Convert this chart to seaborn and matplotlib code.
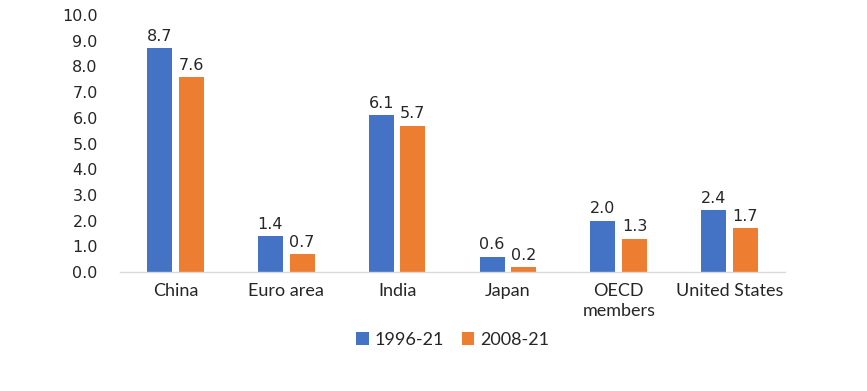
import matplotlib
matplotlib.use("Agg")
import matplotlib.pyplot as plt
import pandas as pd
import seaborn as sns

# values
regions = ["China", "Euro area", "India", "Japan", "OECD\nmembers", "United States"]
period_1996 = [8.7, 1.4, 6.1, 0.6, 2.0, 2.4]
period_2008 = [7.6, 0.7, 5.7, 0.2, 1.3, 1.7]
periods = ["1996-21", "2008-21"]
yticks = [0, 1, 2, 3, 4, 5, 6, 7, 8, 9, 10]

df = pd.DataFrame({
    "region": regions * 2,
    "value": period_1996 + period_2008,
    "period": [periods[0]] * len(regions) + [periods[1]] * len(regions),
})

sns.set_theme(style="white")
plt.rcParams['font.family'] = ['DejaVu Sans']

fig = plt.figure(figsize=(8.67, 3.91), dpi=100)
ax = fig.add_axes([120 / 867, 1 - 272 / 391, 665 / 867, 257 / 391])

sns.barplot(data=df, x="region", y="value", hue="period", order=regions,
            hue_order=periods, palette=["#4472C4", "#ED7D31"], saturation=1,
            width=0.57, gap=0.21, linewidth=0, ax=ax, legend=True)

for cont in ax.containers:
    ax.bar_label(cont, fmt="%.1f", padding=3, fontsize=11.5, color="#262626")

ax.set_xlim(-0.5, 5.5)
ax.set_ylim(0, 10)
ax.set_yticks(yticks)
ax.set_yticklabels([f"{t:.1f}" for t in yticks], fontsize=11.5, color="#262626")
ax.set_xticks(range(len(regions)))
ax.set_xticklabels(regions, fontsize=13, color="#262626", family=["Lato", "DejaVu Sans"],
                   linespacing=1.3)
ax.tick_params(axis="y", length=0, pad=16)
ax.tick_params(axis="x", length=0, pad=8)
ax.set_xlabel("")
ax.set_ylabel("")

for s in ["top", "right", "left"]:
    ax.spines[s].set_visible(False)
ax.spines["bottom"].set_color("#d9d9d9")
ax.spines["bottom"].set_linewidth(1)

ax.legend(loc="center", bbox_to_anchor=(0.5, -0.265), ncol=2, frameon=False,
          handlelength=0.7, handleheight=0.7, handletextpad=0.3, columnspacing=1.0,
          prop={"family": "Lato", "size": 13})

fig.savefig("out.png", dpi=100)
